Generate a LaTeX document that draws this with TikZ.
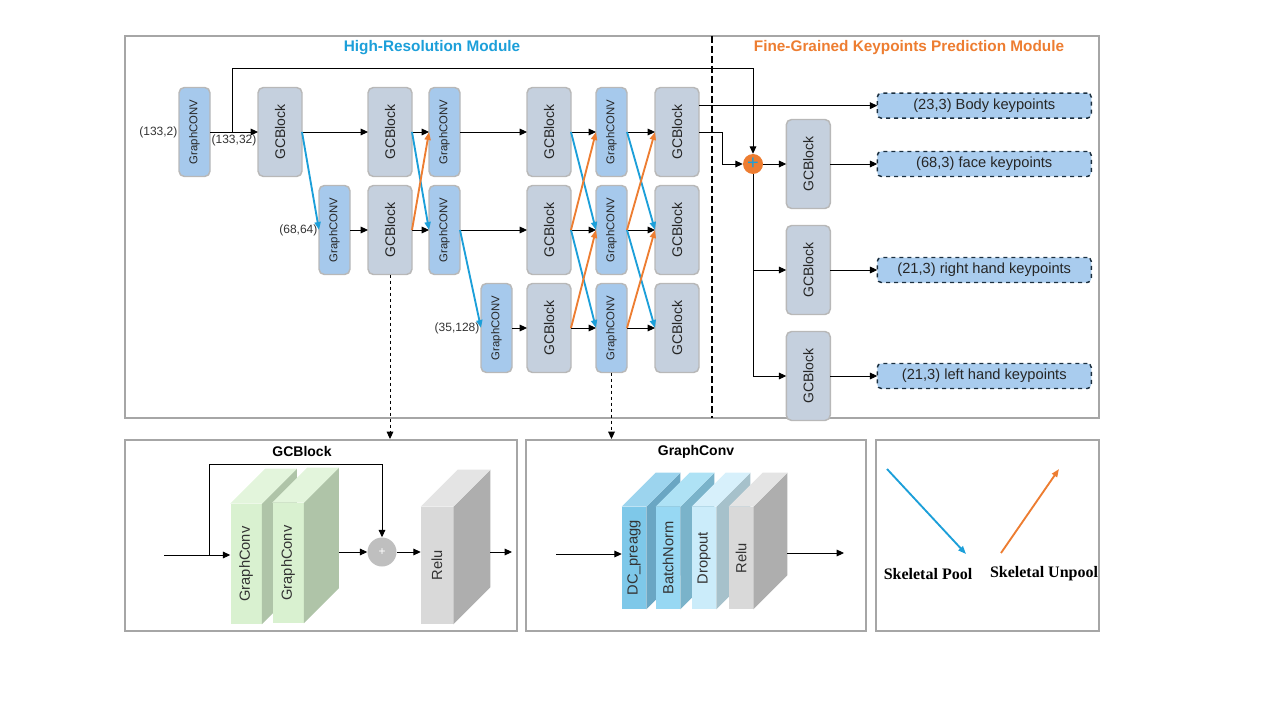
\documentclass[tikz,border=0pt]{standalone}
\usepackage{fontspec}
\setmainfont{Liberation Sans}
\newfontfamily\legendfont{Liberation Serif}
\usetikzlibrary{positioning,calc}
\usetikzlibrary{arrows.meta}

\definecolor{poolblue}{HTML}{1C9FD9}
\definecolor{unpoolorange}{HTML}{ED7D31}
\definecolor{gcfill}{HTML}{C5D0DE}
\definecolor{convfill}{HTML}{A6C9EC}
\definecolor{boxline}{HTML}{B8B8B8}
\definecolor{kpfill}{HTML}{A9CCEE}
\definecolor{kpline}{HTML}{1B2F3F}
\definecolor{frameline}{HTML}{A6A6A6}
\definecolor{addgray}{HTML}{BFBFBF}
% slab colours: F front, S side, T top
\definecolor{greenF}{HTML}{D9F1D0}
\definecolor{greenS}{HTML}{AFC4A8}
\definecolor{greenT}{HTML}{E3F5DC}
\definecolor{greyF}{HTML}{D9D9D9}
\definecolor{greyS}{HTML}{AEAEAE}
\definecolor{greyT}{HTML}{E4E4E4}
\definecolor{dcF}{HTML}{7EC8E9}
\definecolor{dcS}{HTML}{6AA6C3}
\definecolor{dcT}{HTML}{9CD4EE}
\definecolor{bnF}{HTML}{97D8F3}
\definecolor{bnS}{HTML}{7AB3CA}
\definecolor{bnT}{HTML}{AEE2F5}
\definecolor{doF}{HTML}{CBECFA}
\definecolor{doS}{HTML}{A6C1CB}
\definecolor{doT}{HTML}{D7F0FB}

\tikzset{
  gcblock/.style={draw=boxline, fill=gcfill, line width=1.1pt, rounded corners=4pt,
    minimum width=33pt, minimum height=66.75pt, inner sep=0pt, outer sep=0pt,
    text=black!85, font=\fontsize{10.5}{12}\selectfont},
  gconv/.style={gcblock, fill=convfill, minimum width=23.25pt,
    font=\fontsize{8.5}{10}\selectfont},
  kpbox/.style={draw=kpline, fill=kpfill, dashed, line width=1.1pt, rounded corners=3pt,
    minimum width=160.5pt, minimum height=18.75pt, inner sep=0pt, outer sep=0pt,
    text=black!85, font=\fontsize{11}{13}\selectfont},
  dimlabel/.style={font=\fontsize{9}{11}\selectfont, text=black!80, inner sep=1pt},
  fwd/.style={-{Triangle[length=5.5pt,width=5pt]}, line width=0.7pt},
  dfwd/.style={fwd, dash pattern=on 2.5pt off 2pt},
  pool/.style={-{Triangle[length=6pt,width=4.5pt]}, draw=poolblue, line width=1.4pt},
  unpool/.style={pool, draw=unpoolorange},
  panel/.style={draw=frameline, line width=1.5pt, inner sep=0pt},
  modtitle/.style={font=\bfseries\fontsize{11.5}{14}\selectfont},
  subtitle/.style={font=\bfseries\fontsize{10.5}{13}\selectfont},
  legend/.style={font=\legendfont\bfseries\fontsize{12}{14}\selectfont},
  addop/.style={circle, fill=unpoolorange, minimum size=15pt, inner sep=0pt,
    text=poolblue, font=\fontsize{15}{15}\selectfont},
  slabface/.style={inner sep=0pt, font=\fontsize{11}{13}\selectfont, text=black!80},
}

\newcommand{\gcbtext}{\rotatebox{90}{GCBlock}}
\newcommand{\gcvtext}{\rotatebox{90}{GraphCONV}}
% #1 size, #2 name, #3 position, #4 colour stem, #5 depth, #6 text
\newcommand{\slab}[6]{%
  \node[slabface, fill=#4F, #1] (#2) at #3 {\rotatebox{90}{#6}};
  \fill[#4S] (#2.north east) -- ++(#5,-#5) -- ($(#2.south east)+(#5,-#5)$)
    -- (#2.south east) -- cycle;
  \fill[#4T] (#2.north west) -- ++(#5,-#5) -- ($(#2.north east)+(#5,-#5)$)
    -- (#2.north east) -- cycle;
}

\begin{document}
\begin{tikzpicture}[x=0.75pt,y=-0.75pt]
   \useasboundingbox (0,0) rectangle (1280,720);

   % frames
   \node[panel, minimum width=730.5pt, minimum height=286.5pt] (hr) at (612,227) {};
   \node[panel, minimum width=294pt, minimum height=143.25pt] (pgcb) at (321,535.5) {};
   \node[panel, minimum width=255pt, minimum height=143.25pt] (pgcv) at (696,535.5) {};
   \node[panel, minimum width=167.25pt, minimum height=143.25pt] (plg) at (987.5,535.5) {};
   \draw[line width=1.4pt, dash pattern=on 5pt off 2.5pt] (712,36) -- (712,418);

   \node[modtitle, text=poolblue] (t1) at (432,48) {High-Resolution Module};
   \node[modtitle, text=unpoolorange] (t2) at (909,48) {Fine-Grained Keypoints Prediction Module};

   % high-resolution module
   \node[gconv, label={[dimlabel]left:(133,2)}] (gin) at (194.5,132) {\gcvtext};
   \node[gcblock, right=36pt of gin] (b1) {\gcbtext};
   \node[gcblock, right=49.5pt of b1] (b3a) {\gcbtext};
   \node[gconv, right=12.75pt of b3a] (g4a) {\gcvtext};
   \node[gcblock, right=50.25pt of g4a] (b5a) {\gcbtext};
   \node[gconv, right=18.75pt of b5a] (g6a) {\gcvtext};
   \node[gcblock, right=21pt of g6a] (b7a) {\gcbtext};

   \node[gconv, label={[dimlabel]left:(68,64)}] (g2) at (334.5,230) {\gcvtext};
   \node[gcblock, below=6.75pt of b3a] (b3b) {\gcbtext};
   \node[gconv, below=6.75pt of g4a] (g4b) {\gcvtext};
   \node[gcblock, below=6.75pt of b5a] (b5b) {\gcbtext};
   \node[gconv, below=6.75pt of g6a] (g6b) {\gcvtext};
   \node[gcblock, below=6.75pt of b7a] (b7b) {\gcbtext};

   \node[gconv, label={[dimlabel]left:(35,128)}] (g4c) at (496.5,328) {\gcvtext};
   \node[gcblock, below=6.75pt of b5b] (b5c) {\gcbtext};
   \node[gconv, below=6.75pt of g6b] (g6c) {\gcvtext};
   \node[gcblock, below=6.75pt of b7b] (b7c) {\gcbtext};

   % prediction module
   \node[addop] (add) at (753,164) {+};
   \node[gcblock, right=17.25pt of add] (rb1) {\gcbtext};
   \node[gcblock, below=12.75pt of rb1] (rb2) {\gcbtext};
   \node[gcblock, below=12.75pt of rb2] (rb3) {\gcbtext};
   \node[kpbox, right=35.25pt of rb1] (o2) {(68,3) face keypoints};
   \node[kpbox, above=25pt of o2] (o1) {(23,3) Body keypoints};
   \node[kpbox, right=35.25pt of rb2] (o3) {(21,3) right hand keypoints};
   \node[kpbox, right=35.25pt of rb3] (o4) {(21,3) left hand keypoints};

   \draw[fwd] (gin) -- node[dimlabel, below=1pt]{(133,32)} (b1);
   \foreach \a/\b in {b1/b3a, b3a/g4a, g4a/b5a, b5a/g6a, g6a/b7a,
                      g2/b3b, b3b/g4b, g4b/b5b, b5b/g6b, g6b/b7b,
                      g4c/b5c, b5c/g6c, g6c/b7c,
                      add/rb1, rb1/o2, rb2/o3, rb3/o4}
      \draw[fwd] (\a) -- (\b);

   \foreach \a/\b in {b1/g2, b3a/g4b, g4b/g4c, b5a/g6b, b5b/g6c, g6a/b7b, g6b/b7c}
      \draw[pool] (\a.east) -- (\b.west);
   \foreach \a/\b in {b3b/g4a, b5b/g6a, b5c/g6b, g6b/b7a, g6c/b7b}
      \draw[unpool] (\a.east) -- (\b.west);

   \coordinate (sk) at ($(gin.east)!0.46!(b1.west)$);
   \draw[fwd] (sk) -- ++(0,-64) -| (add);
   \draw[fwd] (b7a.east |- o1) -- (o1);
   \draw[fwd] (b7a.east) -- ++(23,0) |- (add);
   \draw[fwd] (add) |- (rb2);
   \draw[fwd] (add) |- (rb3);

   \draw[dfwd] (b3b) -- (b3b |- pgcb.north);
   \draw[dfwd] (g6c) -- (g6c |- pgcv.north);

   % GCBlock panel
   \node[subtitle] (tgcb) at (302,451) {GCBlock};
   \slab{minimum width=23.25pt, minimum height=90pt}{s1}{(246,564)}{green}{35}{GraphConv}
   \slab{minimum width=23.25pt, minimum height=90pt}{s2}{(288,563)}{green}{35}{GraphConv}
   \slab{minimum width=24pt, minimum height=87.75pt}{srelu}{(437,565.5)}{grey}{37}{Relu}
   \node[circle, fill=addgray, minimum size=21.75pt, inner sep=0pt, text=white,
         font=\fontsize{9}{9}\selectfont] (gcadd) at (382,552) {+};
   \coordinate (gcin) at (164,555);
   \coordinate (gcsplit) at (209,555);
   \coordinate (gcout) at (512,552);
   \draw[fwd] (gcin) -- (gcin -| s1.west);
   \draw[fwd] (gcsplit) -- ++(0,-91) -| (gcadd);
   \draw[fwd] ($(s2.east |- gcadd)+(35,0)$) -- (gcadd);
   \draw[fwd] (gcadd) -- (gcadd -| srelu.west);
   \draw[fwd] ($(srelu.east |- gcadd)+(37,0)$) -- (gcout);

   % GraphConv panel
   \node[subtitle] (tgcv) at (696,452) {GraphConv};
   \slab{minimum width=18pt, minimum height=76.5pt}{sdc}{(634,558)}{dc}{34}{DC\_preagg}
   \slab{minimum width=18pt, minimum height=76.5pt}{sbn}{(668,558)}{bn}{34}{BatchNorm}
   \slab{minimum width=18pt, minimum height=76.5pt}{sdo}{(704,558)}{do}{34}{Dropout}
   \slab{minimum width=18pt, minimum height=76.5pt}{srl}{(741,558)}{grey}{34}{Relu}
   \coordinate (gvin) at (556,554);
   \coordinate (gvout) at (844,553);
   \draw[fwd] (gvin) -- (gvin -| sdc.west);
   \draw[fwd] ($(srl.east |- gvout)+(34,0)$) -- (gvout);

   % legend panel
   \coordinate (lp1) at (887,469);
   \coordinate (lp2) at (966,554);
   \coordinate (lu1) at (1001,553);
   \coordinate (lu2) at (1059,469);
   \draw[pool] (lp1) -- (lp2);
   \draw[unpool] (lu1) -- (lu2);
   \node[legend] (lpool) at (928,574) {Skeletal Pool};
   \node[legend] (lunpool) at (1044,574) {Skeletal Unpool};
\end{tikzpicture}
\end{document}
